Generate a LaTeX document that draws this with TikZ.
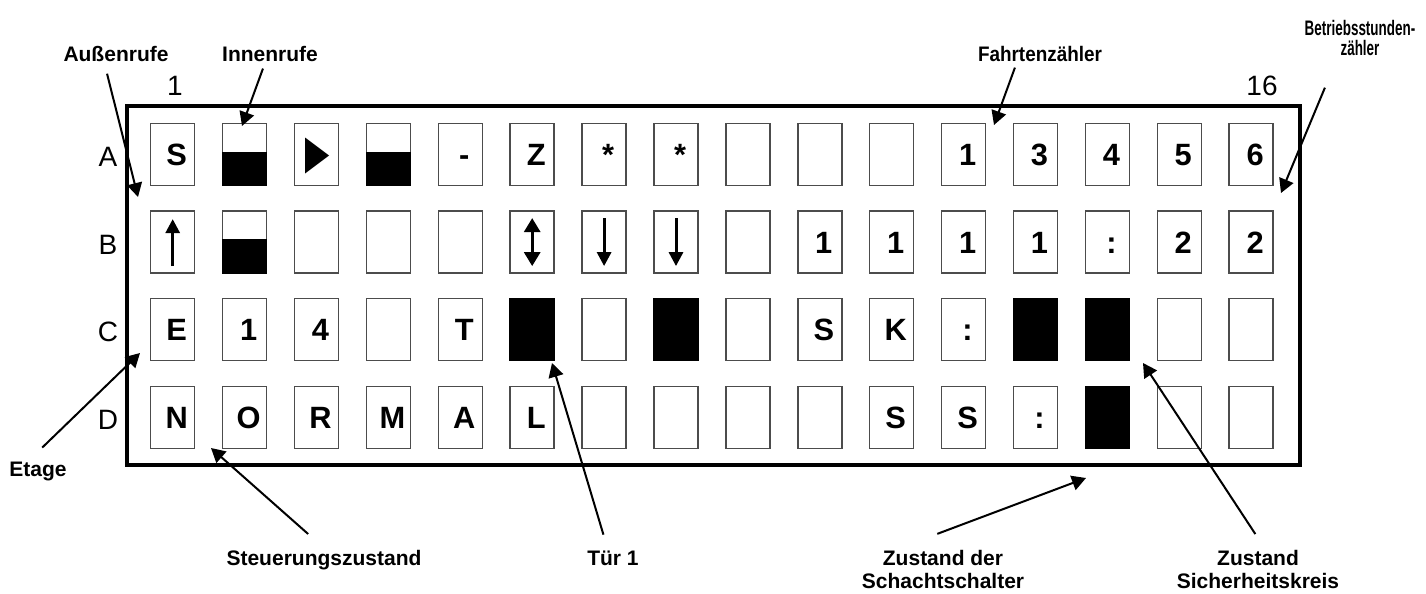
\documentclass[tikz,border=0pt]{standalone}
\usepackage{fontspec}
\setmainfont{Liberation Sans}
\newfontfamily\narrowsans[FakeStretch=0.9]{Liberation Sans}
\newfontfamily\condsans[FakeStretch=0.64]{Liberation Sans}
\usetikzlibrary{arrows.meta}

\begin{document}
\begin{tikzpicture}[x=0.5pt, y=-0.5pt,
  cell/.style={draw=black!70, line width=0.75pt, minimum width=22pt,
    minimum height=31pt, inner sep=0pt, text height=11pt, text depth=0pt,
    font=\fontsize{15.4}{18}\selectfont\bfseries,
    execute at begin node={\hspace*{4pt}}},
  lbl/.style={font=\fontsize{10.5}{11.5}\selectfont\bfseries, inner sep=2pt,
    align=center},
  idx/.style={font=\fontsize{14}{16}\selectfont, anchor=base},
  pointer/.style={-{Triangle[length=7pt,width=7.5pt]}, line width=1pt},
  symarrow/.style={-{Triangle[length=7pt,width=7pt]}, line width=1.5pt}]

  \useasboundingbox (0,0) rectangle (1426,594);

  % Anzeige
  \draw[line width=2pt] (127,106) rectangle (1300,465);

  \foreach \c/\t in {1/S,2/,3/,4/,5/-,6/Z,7/*,8/*,9/,10/,11/,12/1,13/3,14/4,15/5,16/6}
    \node[cell] (A\c) at ({172.7+(\c-1)*71.9},154.5) {\t};
  \foreach \c/\t in {1/,2/,3/,4/,5/,6/,7/,8/,9/,10/1,11/1,12/1,13/1,14/:,15/2,16/2}
    \node[cell] (B\c) at ({172.7+(\c-1)*71.9},242.1) {\t};
  \foreach \c/\t in {1/E,2/1,3/4,4/,5/T,6/,7/,8/,9/,10/S,11/K,12/:,13/,14/,15/,16/}
    \node[cell] (C\c) at ({172.7+(\c-1)*71.9},329.7) {\t};
  \foreach \c/\t in {1/N,2/O,3/R,4/M,5/A,6/L,7/,8/,9/,10/,11/S,12/S,13/:,14/,15/,16/}
    \node[cell] (D\c) at ({172.7+(\c-1)*71.9},417.3) {\t};

  \foreach \n in {C6,C8,C13,C14,D14}
    \fill (\n.south west) rectangle (\n.north east);
  \foreach \n in {A2,A4,B2}
    \fill (\n.south west) rectangle ([yshift=1.5pt]\n.east);
  \fill (A3.center) ++(-11.5,-17) -- ++(24,18) -- ++(-24,18) -- cycle;

  \draw[symarrow] (B1.center) ++(0,24) -- ++(0,-47);
  \draw[{Triangle[length=7pt,width=8pt]}-{Triangle[length=7pt,width=8pt]},
    line width=1.5pt] (B6.center) ++(0,-24) -- ++(0,48);
  \draw[symarrow] (B7.center) ++(0,-24) -- ++(0,48);
  \draw[symarrow] (B8.center) ++(0,-24) -- ++(0,48);

  \foreach \r/\n in {0/A,1/B,2/C,3/D}
    \node[idx] (r\n) at (108,{166.7+\r*87.6}) {\n};
  \node[idx] (first) at (175,95) {1};
  \node[idx] (last) at (1262,95) {16};

  \node[lbl, anchor=base] (aussen) at (116,61.7) {Außenrufe};
  \node[lbl, anchor=base] (innen) at (270,61.7) {Innenrufe};
  \node[lbl, anchor=base, font=\narrowsans\fontsize{10.5}{11.5}\selectfont\bfseries]
    (fahrt) at (1040,61.7) {Fahrtenzähler};
  \node[lbl, font=\condsans\fontsize{10.5}{10}\selectfont\bfseries]
    (betrieb) at (1360,37.5) {Betriebsstunden-\\zähler};
  \node[lbl, anchor=base] (etage) at (38,476.7) {Etage};
  \node[lbl, anchor=base] (steuer) at (324,565) {Steuerungszustand};
  \node[lbl, anchor=base] (tuer) at (613,565.5) {Tür 1};
  \node[lbl] (schacht) at (943,569) {Zustand der\\Schachtschalter};
  \node[lbl] (sicher) at (1258,569) {Zustand\\Sicherheitskreis};

  \coordinate (to-aussen) at (138,197);
  \coordinate (to-innen) at (242,126);
  \coordinate (to-fahrt) at (994,125);
  \coordinate (to-betrieb) at (1281,193);
  \coordinate (to-etage) at (140,353);
  \coordinate (to-steuer) at (211,448);
  \coordinate (to-tuer) at (552,363);
  \coordinate (to-schacht) at (1086,478);
  \coordinate (to-sicher) at (1143,363);

  \draw[pointer, shorten <=3.8pt] ([xshift=-5.4pt]aussen.south) -- (to-aussen);
  \draw[pointer, shorten <=1.2pt] ([xshift=-3.1pt]innen.south) -- (to-innen);
  \draw[pointer, shorten <=0.7pt] ([xshift=-12.3pt]fahrt.south) -- (to-fahrt);
  \draw[pointer, shorten <=15.2pt] ([xshift=-11.7pt]betrieb.south) -- (to-betrieb);
  \draw[pointer, shorten <=7.4pt] ([xshift=-3.2pt]etage.north) -- (to-etage);
  \draw[pointer, shorten <=8.6pt] ([xshift=-1.5pt]steuer.north) -- (to-steuer);
  \draw[pointer, shorten <=6.2pt] ([xshift=-3pt]tuer.north) -- (to-tuer);
  \draw[pointer, shorten <=16.4pt] ([xshift=-18.2pt]schacht.north) -- (to-schacht);
  \draw[pointer, shorten <=6.8pt] ([xshift=2.4pt]sicher.north) -- (to-sicher);
\end{tikzpicture}
\end{document}
